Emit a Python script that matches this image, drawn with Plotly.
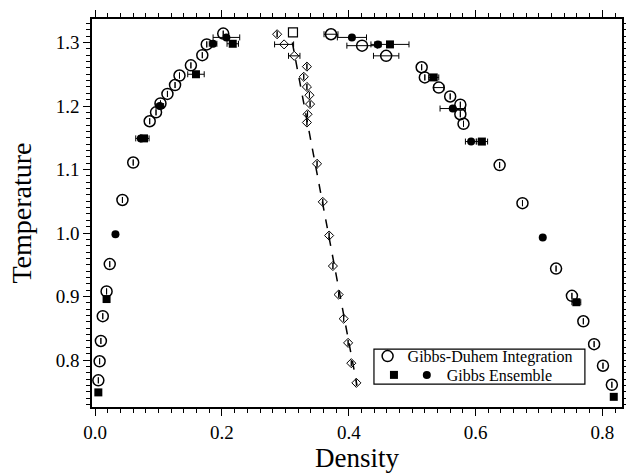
import plotly.graph_objects as go

# Gibbs-Duhem integration (open circles)
gd_density = [0.005, 0.007, 0.009, 0.012, 0.018, 0.023, 0.043, 0.060, 0.086, 0.096,
              0.103, 0.114, 0.126, 0.133, 0.151, 0.169, 0.176, 0.202,
              0.372, 0.421, 0.459, 0.515, 0.520, 0.542, 0.560, 0.576, 0.576, 0.581,
              0.638, 0.674, 0.727, 0.752, 0.770, 0.787, 0.801, 0.815]
gd_temp = [0.768, 0.798, 0.830, 0.869, 0.908, 0.951, 1.052, 1.111, 1.176, 1.190,
           1.204, 1.219, 1.233, 1.248, 1.264, 1.280, 1.297, 1.314,
           1.313, 1.295, 1.279, 1.261, 1.245, 1.229, 1.215, 1.202, 1.187, 1.172,
           1.107, 1.047, 0.944, 0.901, 0.861, 0.825, 0.791, 0.761]
gd_err = [0] * 18 + [0.011, 0.024, 0.020, 0, 0, 0.008, 0, 0, 0, 0,
                     0, 0, 0, 0, 0, 0, 0, 0]

# Gibbs ensemble (filled squares)
ges_density = [0.005, 0.018, 0.077, 0.159, 0.217, 0.465, 0.534, 0.610, 0.759, 0.818]
ges_temp = [0.749, 0.896, 1.149, 1.250, 1.298, 1.297, 1.245, 1.144, 0.891, 0.742]
ges_err = [0, 0, 0.008, 0.013, 0.009, 0.030, 0.008, 0.009, 0.007, 0]

# Gibbs ensemble (filled circles)
gec_density = [0.032, 0.072, 0.102, 0.186, 0.207, 0.405, 0.446, 0.564, 0.593, 0.706]
gec_temp = [0.998, 1.149, 1.200, 1.298, 1.308, 1.308, 1.297, 1.196, 1.144, 0.993]
gec_err = [0, 0.008, 0.006, 0.006, 0.021, 0.023, 0.005, 0.020, 0.009, 0]

# rectilinear diameter (diamonds)
rd_density = [0.287, 0.298, 0.314, 0.334, 0.329, 0.334, 0.338, 0.339, 0.335, 0.334,
              0.350, 0.359, 0.369, 0.375, 0.384, 0.392, 0.399, 0.404, 0.412]
rd_temp = [1.313, 1.297, 1.279, 1.262, 1.246, 1.230, 1.217, 1.203, 1.187, 1.174,
           1.109, 1.049, 0.996, 0.948, 0.903, 0.865, 0.827, 0.795, 0.764]
rd_err = [0, 0.015, 0.009] + [0] * 16

# fitted diameter line and critical point
fit_density = [0.311, 0.413]
fit_temp = [1.300, 0.760]
crit_density = [0.312]
crit_temp = [1.316]

FONT = "Liberation Serif"
ebar = lambda a: dict(type="data", array=a, color="black", thickness=1, width=3)

fig = go.Figure()

fig.add_trace(go.Scatter(x=fit_density, y=fit_temp, mode="lines",
                         line=dict(color="black", width=1.5, dash="dash"),
                         showlegend=False))
fig.add_trace(go.Scatter(x=rd_density, y=rd_temp, mode="markers",
                         marker=dict(symbol="diamond-open", size=7, color="black",
                                     line=dict(width=1)),
                         error_x=ebar(rd_err), showlegend=False))
fig.add_trace(go.Scatter(x=crit_density, y=crit_temp, mode="markers",
                         marker=dict(symbol="square-open", size=9, color="black",
                                     line=dict(width=1.2)),
                         showlegend=False))
fig.add_trace(go.Scatter(x=gd_density, y=gd_temp, mode="markers",
                         name="Gibbs-Duhem Integration", legend="legend",
                         marker=dict(symbol="circle-open", size=11, color="black",
                                     line=dict(width=1.5)),
                         error_x=ebar(gd_err)))
fig.add_trace(go.Scatter(x=ges_density, y=ges_temp, mode="markers",
                         name="", legend="legend2",
                         marker=dict(symbol="square", size=8, color="black"),
                         error_x=ebar(ges_err)))
fig.add_trace(go.Scatter(x=gec_density, y=gec_temp, mode="markers",
                         name="Gibbs Ensemble", legend="legend3",
                         marker=dict(symbol="circle", size=8, color="black"),
                         error_x=ebar(gec_err)))

axis_common = dict(showline=True, linecolor="black", linewidth=1.5, mirror="ticks",
                   ticks="outside", ticklen=7, tickwidth=1.2, tickcolor="black",
                   showgrid=False, zeroline=False, automargin=False,
                   tickfont=dict(family=FONT, size=19, color="black"))

fig.update_xaxes(range=[-0.005, 0.831], tick0=0, dtick=0.2, tickformat=".1f",
                 minor=dict(dtick=0.02, ticks="outside", ticklen=4, tickcolor="black"),
                 title=dict(text="Density", font=dict(family=FONT, size=27, color="black"),
                            standoff=0),
                 **axis_common)
fig.update_yaxes(range=[0.726, 1.337], tick0=0.8, dtick=0.1, tickformat=".1f",
                 minor=dict(dtick=0.01, ticks="outside", ticklen=4, tickcolor="black"),
                 title=dict(text="Temperature", font=dict(family=FONT, size=28, color="black"),
                            standoff=16),
                 **axis_common)

leg = dict(bgcolor="rgba(0,0,0,0)", borderwidth=0, xanchor="left", yanchor="middle",
           font=dict(family=FONT, size=16, color="black"))
fig.update_layout(
    template="none",
    width=626, height=473,
    margin=dict(l=92, r=4, t=19, b=66),
    plot_bgcolor="white", paper_bgcolor="white",
    legend=dict(x=0.520, y=0.131, **leg),
    legend2=dict(x=0.532, y=0.0825, **leg),
    legend3=dict(x=0.594, y=0.0825, **leg),
    shapes=[dict(type="rect", xref="paper", yref="paper", x0=0.532, x1=0.930,
                 y0=0.059, y1=0.149, line=dict(color="black", width=1.2))],
)

fig.write_html("out.html", config={"displayModeBar": False},
               post_script="document.body.style.margin='0px';"
                           "document.body.style.overflow='hidden';")
